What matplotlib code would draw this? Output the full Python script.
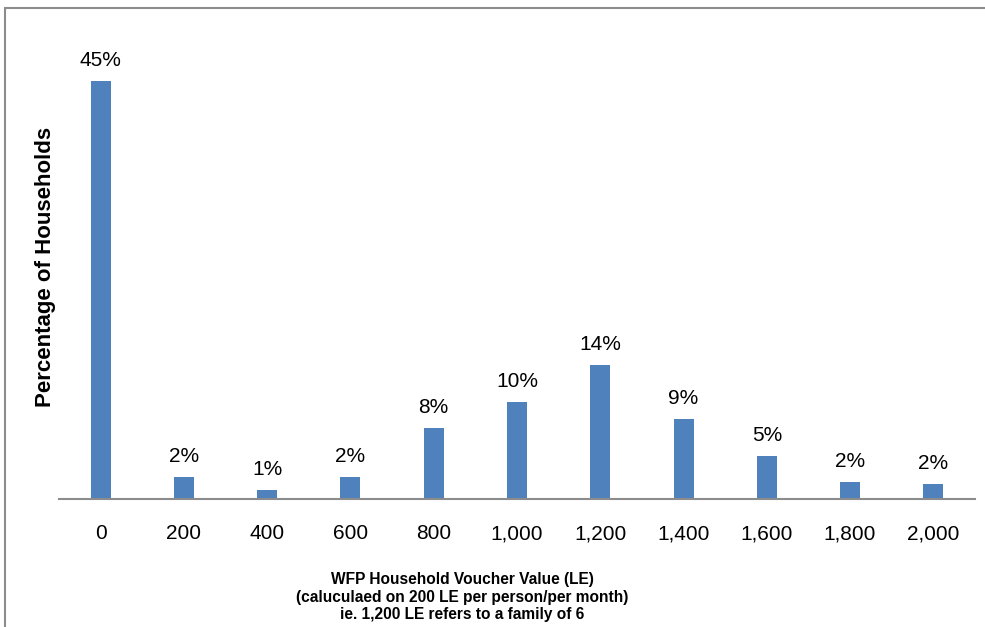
import matplotlib.pyplot as plt
from matplotlib.patches import Rectangle

voucher_values = ["0", "200", "400", "600", "800", "1,000", "1,200",
                  "1,400", "1,600", "1,800", "2,000"]
share_pct = [45.0, 2.4, 1.0, 2.4, 7.6, 10.4, 14.4, 8.6, 4.6, 1.8, 1.6]

plt.rcParams['font.family'] = ['Liberation Sans', 'DejaVu Sans']

fig = plt.figure(figsize=(9.85, 6.27), dpi=100)
ax = fig.add_axes([0.0599, 0.2041, 0.9299, 0.741])

x = range(len(voucher_values))
bars = ax.bar(x, share_pct, width=0.24, color='#4F81BD', zorder=2)
for rect, v in zip(bars, share_pct):
    ax.text(rect.get_x() + rect.get_width() / 2, v + 1.2, f"{v:.0f}%",
            ha='center', va='bottom', fontsize=15)

ax.set_xlim(-0.5, len(voucher_values) - 0.5)
ax.set_ylim(0, 50)
ax.set_xticks(list(x))
ax.set_xticklabels(voucher_values, fontsize=15)
ax.tick_params(axis='x', length=0, pad=18)
ax.set_yticks([])
for side in ('top', 'right', 'left'):
    ax.spines[side].set_visible(False)
ax.spines['bottom'].set_color('#8c8c8c')
ax.spines['bottom'].set_linewidth(1.5)

ax.set_ylabel("Percentage of Households", fontsize=16, fontweight='bold')
ax.yaxis.set_label_coords(-0.003, 0.5)

fig.text(0.469, 0.008,
         "WFP Household Voucher Value (LE)\n"
         "(caluculaed on 200 LE per person/per month)\n"
         "ie. 1,200 LE refers to a family of 6",
         ha='center', va='bottom', fontsize=11.2, fontweight='bold',
         linespacing=1.2)

# outer frame, open at the right and bottom edges
fig.patches.append(Rectangle((0.0055, -0.05), 1.05, 1.037,
                             transform=fig.transFigure, fill=False,
                             edgecolor='#8c8c8c', linewidth=1.5))

fig.savefig("out.png", dpi=100)
